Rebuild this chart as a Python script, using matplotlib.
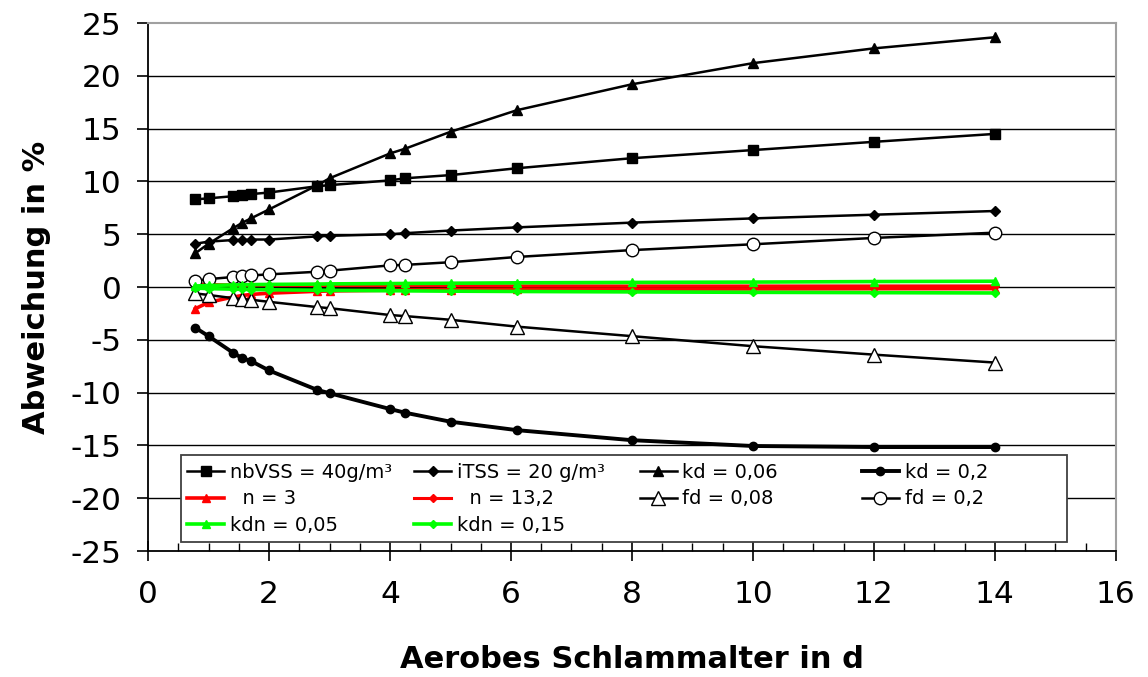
import matplotlib
matplotlib.use('Agg')
import matplotlib.pyplot as plt
from matplotlib.legend import Legend
from matplotlib.patches import Rectangle
from matplotlib.ticker import MultipleLocator

plt.rcParams['axes.unicode_minus'] = False

# aerobic sludge age [d]
srt = [0.78, 1.0, 1.4, 1.56, 1.7, 2.0, 2.8, 3.0, 4.0, 4.25, 5.0, 6.1, 8.0, 10.0, 12.0, 14.0]

# deviation in % for each parameter variation
nbvss_40   = [8.3, 8.4, 8.6, 8.7, 8.8, 8.95, 9.55, 9.65, 10.1, 10.3, 10.6, 11.25, 12.2, 12.97, 13.75, 14.5]
itss_20    = [4.1, 4.3, 4.45, 4.45, 4.5, 4.5, 4.8, 4.85, 5.0, 5.1, 5.35, 5.65, 6.1, 6.5, 6.85, 7.2]
kd_006     = [3.2, 4.1, 5.55, 6.1, 6.5, 7.35, 9.65, 10.3, 12.65, 13.1, 14.7, 16.75, 19.2, 21.2, 22.6, 23.65]
kd_02      = [-3.85, -4.65, -6.2, -6.75, -7.0, -7.9, -9.75, -10.05, -11.55, -11.9, -12.75, -13.55, -14.5, -15.05, -15.15, -15.15]
n_3        = [-2.05, -1.45, -0.95, -0.8, -0.7, -0.58, -0.4, -0.37, -0.3, -0.28, -0.25, -0.22, -0.2, -0.18, -0.16, -0.15]
n_132      = [0.3, 0.25, 0.2, 0.19, 0.18, 0.17, 0.15, 0.15, 0.13, 0.13, 0.12, 0.11, 0.1, 0.1, 0.1, 0.1]
fd_008     = [-0.6, -0.75, -1.05, -1.15, -1.2, -1.4, -1.9, -2.0, -2.65, -2.75, -3.1, -3.75, -4.65, -5.6, -6.4, -7.15]
fd_02      = [0.6, 0.75, 0.95, 1.05, 1.1, 1.2, 1.45, 1.55, 2.05, 2.1, 2.35, 2.85, 3.5, 4.05, 4.65, 5.15]
kdn_005    = [0.1, 0.15, 0.2, 0.22, 0.23, 0.25, 0.28, 0.3, 0.33, 0.34, 0.36, 0.4, 0.44, 0.47, 0.52, 0.55]
kdn_015    = [-0.1, -0.15, -0.2, -0.22, -0.24, -0.26, -0.3, -0.31, -0.35, -0.36, -0.39, -0.42, -0.46, -0.5, -0.53, -0.56]
basis      = [0.0] * len(srt)

labels = ['nbVSS = 40g/m³', 'iTSS = 20 g/m³', 'kd = 0,06', 'kd = 0,2',
          '  n = 3', '  n = 13,2', 'fd = 0,08', 'fd = 0,2',
          'kdn = 0,05', 'kdn = 0,15']

GREEN = '#00ff00'
RED = '#ff0000'

fig = plt.figure(figsize=(11.48, 6.77), dpi=100)
ax = fig.add_axes([0.129, 0.186, 0.843, 0.780])

# horizontal grid
for yv in range(-20, 25, 5):
    ax.axhline(yv, color='black', lw=1.0, zorder=1)

h = {}
h[0] = ax.plot(srt, nbvss_40, color='black', lw=1.8, marker='s', ms=7, zorder=3)[0]
h[1] = ax.plot(srt, itss_20, color='black', lw=1.8, marker='D', ms=5.5, zorder=3)[0]
h[2] = ax.plot(srt, kd_006, color='black', lw=1.8, marker='^', ms=7.5, zorder=3)[0]
h[3] = ax.plot(srt, kd_02, color='black', lw=2.8, marker='o', ms=6, zorder=3)[0]
ax.plot(srt, basis, color='black', lw=3.0, zorder=3)
h[4] = ax.plot(srt, n_3, color=RED, lw=2.6, marker='^', ms=5.5, zorder=4)[0]
h[5] = ax.plot(srt, n_132, color=RED, lw=2.2, marker='D', ms=4, zorder=4)[0]
h[6] = ax.plot(srt, fd_008, color='black', lw=1.8, marker='^', ms=10, mfc='white', mec='black', mew=1.0, zorder=5)[0]
h[7] = ax.plot(srt, fd_02, color='black', lw=1.8, marker='o', ms=9, mfc='white', mec='black', mew=1.0, zorder=5)[0]
h[8] = ax.plot(srt, kdn_005, color=GREEN, lw=2.6, marker='^', ms=5.5, zorder=6)[0]
h[9] = ax.plot(srt, kdn_015, color=GREEN, lw=2.6, marker='D', ms=4.5, zorder=6)[0]

ax.set_xlim(0, 16)
ax.set_ylim(-25, 25)
ax.xaxis.set_major_locator(MultipleLocator(2))
ax.xaxis.set_minor_locator(MultipleLocator(0.5))
ax.yaxis.set_major_locator(MultipleLocator(5))
ax.tick_params(axis='x', which='major', direction='inout', length=14, width=1.2, labelsize=22.5, pad=14)
ax.tick_params(axis='x', which='minor', direction='in', length=6, width=1.0)
ax.tick_params(axis='y', which='major', direction='out', length=8, width=1.2, labelsize=22.5, pad=11)

for side in ['left', 'bottom']:
    ax.spines[side].set_color('black')
    ax.spines[side].set_linewidth(1.3)
for side in ['top', 'right']:
    ax.spines[side].set_color('#a0a0a0')
    ax.spines[side].set_linewidth(1.5)

ax.set_xlabel('Aerobes Schlammalter in d', fontsize=22, fontweight='bold')
ax.set_ylabel('Abweichung in %', fontsize=22, fontweight='bold')
ax.xaxis.set_label_coords(0.5, -0.178)
ax.yaxis.set_label_coords(-0.100, 0.5)

# legend frame and four columns
frame = Rectangle((0.034, 0.017), 0.916, 0.165, transform=ax.transAxes,
                  facecolor='white', edgecolor='#404040', lw=1.3, zorder=7)
ax.add_patch(frame)

columns = [[0, 4, 8], [1, 5, 9], [2, 6], [3, 7]]
col_x = [0.0403, 0.2748, 0.508, 0.7376]
for idx, cx in zip(columns, col_x):
    leg = Legend(ax, [h[i] for i in idx], [labels[i] for i in idx],
                 loc='upper left', bbox_to_anchor=(cx, 0.167),
                 frameon=False, fontsize=14, borderpad=0, borderaxespad=0,
                 handlelength=1.9, handletextpad=0.3, labelspacing=0.39)
    leg.set_zorder(8)
    ax.add_artist(leg)

plt.savefig('out.png', dpi=100)
